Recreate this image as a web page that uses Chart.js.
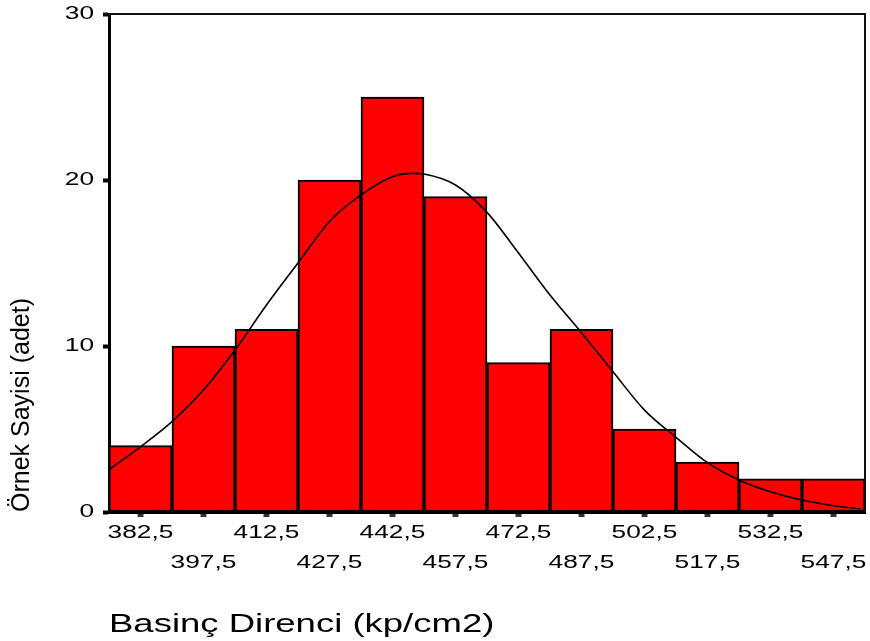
<!DOCTYPE html>
<html>
<head>
<meta charset="utf-8">
<script src="https://cdn.jsdelivr.net/npm/chart.js@4"></script>
<style>
  html, body { margin: 0; padding: 0; background: #fff; }
  #wrap { width: 870px; height: 641px; }
</style>
</head>
<body>
<div id="wrap"><canvas id="c" width="870" height="641"></canvas></div>
<script>
// ---- data ----
const binCenters = [382.5, 397.5, 412.5, 427.5, 442.5, 457.5, 472.5, 487.5, 502.5, 517.5, 532.5, 547.5];
const counts     = [4, 10, 11, 20, 25, 19, 9, 11, 5, 3, 2, 2];
const curveX = [375, 382.5, 390, 397.5, 405, 412.5, 420, 427.5, 435, 442.5, 447.5, 450, 457.5, 465, 472.5, 480, 487.5, 495, 502.5, 510, 517.5, 525, 532.5, 540, 547.5, 554];
const curveY = [2.55, 3.93, 5.44, 7.35, 9.76, 12.47, 15.0, 17.5, 19.1, 20.2, 20.4, 20.36, 19.7, 18.05, 15.6, 13.07, 10.8, 8.45, 6.14, 4.5, 2.97, 1.93, 1.22, 0.72, 0.38, 0.18];
const yTicks = [0, 10, 20, 30];
const xTitle = 'Basinç Direnci (kp/cm2)';
const yTitle = 'Örnek Sayisi (adet)';

const FONT = 'Arial, "Liberation Sans", sans-serif';

// stretch text horizontally (the reference uses wide lettering)
const stretchPlugin = {
  id: 'stretch',
  beforeDraw(chart) {
    const ctx = chart.ctx;
    if (ctx.__stretched) return;
    ctx.__stretched = true;
    const orig = CanvasRenderingContext2D.prototype.fillText;
    ctx.fillText = function (text, x, y, maxWidth) {
      const sx = (text === yTitle) ? 1.0 : 1.46;
      this.save();
      this.translate(x, y);
      this.scale(sx, 1);
      if (maxWidth === undefined) orig.call(this, text, 0, 0);
      else orig.call(this, text, 0, 0, maxWidth / sx);
      this.restore();
    };
  }
};

// frame (top and right edges of the plot box)
const framePlugin = {
  id: 'frame',
  afterDatasetsDraw(chart) {
    const {ctx, chartArea: a} = chart;
    ctx.save();
    ctx.strokeStyle = '#111';
    ctx.lineWidth = 2;
    ctx.beginPath();
    ctx.moveTo(a.left, a.top);
    ctx.lineTo(a.right, a.top);
    ctx.lineTo(a.right, a.bottom);
    ctx.stroke();
    ctx.restore();
  }
};

const fmt = v => String(v).replace('.', ',');

new Chart(document.getElementById('c'), {
  type: 'bar',
  data: {
    datasets: [
      {
        type: 'line',
        order: 0,
        data: curveX.map((x, i) => ({x, y: curveY[i]})),
        borderColor: '#000',
        borderWidth: 1.6,
        pointRadius: 0,
        cubicInterpolationMode: 'monotone',
        fill: false
      },
      {
        type: 'bar',
        order: 1,
        data: binCenters.map((x, i) => ({x, y: counts[i]})),
        backgroundColor: '#ff0000',
        borderColor: '#000',
        borderWidth: 2,
        borderSkipped: false,
        barPercentage: 1,
        categoryPercentage: 1,
        grouped: false
      }
    ]
  },
  options: {
    responsive: false,
    animation: false,
    events: [],
    layout: { padding: { top: 14, right: 5, left: 0, bottom: 0 } },
    plugins: { legend: { display: false }, tooltip: { enabled: false } },
    scales: {
      x: {
        type: 'linear',
        offset: false,
        min: 375,
        max: 555,
        afterBuildTicks: s => { s.ticks = binCenters.map(v => ({value: v})); },
        afterFit: s => { s.height = 129; s.paddingLeft = 0; s.paddingRight = 0; },
        ticks: {
          autoSkip: false,
          maxRotation: 0,
          minRotation: 0,
          padding: 1,
          color: '#000',
          font: { family: FONT, size: 18, lineHeight: 1.67 },
          callback: (v, i) => (i % 2 === 0) ? [fmt(binCenters[i])] : ['', fmt(binCenters[i])]
        },
        grid: { offset: false, drawOnChartArea: false, drawTicks: true, tickLength: 5, tickWidth: 6, tickColor: '#333' },
        border: { display: true, color: '#000', width: 3 },
        title: {
          display: true,
          text: xTitle,
          align: 'start',
          color: '#000',
          font: { family: FONT, size: 25, lineHeight: 1.2 },
          padding: { top: 0, bottom: 1 }
        }
      },
      y: {
        min: 0,
        max: 30,
        afterBuildTicks: s => { s.ticks = yTicks.map(v => ({value: v})); },
        afterFit: s => { s.width = 109; s.paddingTop = 0; s.paddingBottom = 0; },
        ticks: {
          padding: 9,
          color: '#000',
          font: { family: FONT, size: 18 }
        },
        grid: { drawOnChartArea: false, drawTicks: true, tickLength: 6, tickWidth: 4, tickColor: '#000' },
        border: { display: true, color: '#000', width: 3 },
        title: {
          display: true,
          text: yTitle,
          align: 'start',
          color: '#000',
          font: { family: FONT, size: 25, lineHeight: 1.2 },
          padding: { top: 7, bottom: 0 }
        }
      }
    }
  },
  plugins: [stretchPlugin, framePlugin]
});
</script>
</body>
</html>
